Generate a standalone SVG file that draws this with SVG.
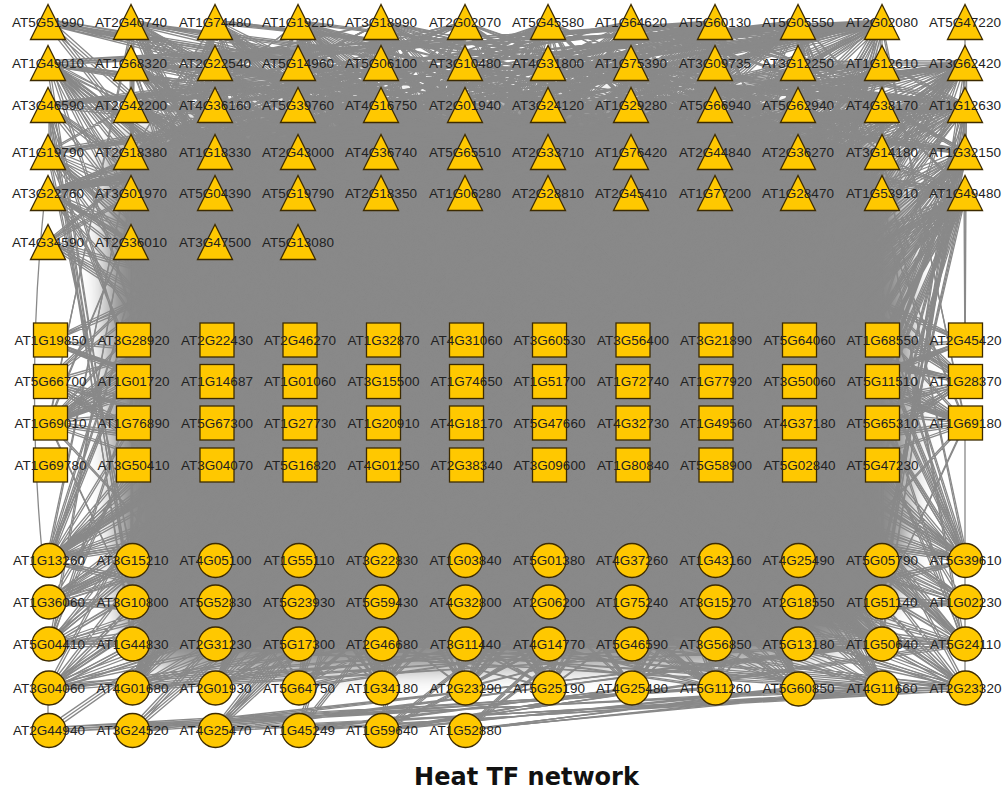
<svg xmlns="http://www.w3.org/2000/svg" width="1004" height="792" viewBox="0 0 1004 792">
<style>
.e{fill:none;stroke:#898989;stroke-width:1.3;stroke-linejoin:round;stroke-linecap:round}
.core{fill:#898989}
.n{fill:#FFC800;stroke:#3d2b00;stroke-width:1.3}
.l{font-family:"Liberation Sans",Arial,sans-serif;font-size:13.5px;fill:#222;text-anchor:middle}
.t{font-family:"DejaVu Sans",Verdana,sans-serif;font-weight:bold;font-size:24px;fill:#111;text-anchor:middle}
</style>
<defs>
<filter id="soft" x="-10%" y="-10%" width="120%" height="120%"><feGaussianBlur stdDeviation="12"/></filter>
<polygon id="tri" class="n" points="0,-17.5 -17.5,17.5 17.5,17.5"/>
<rect id="sq" class="n" x="-17" y="-17" width="34" height="34"/>
<circle id="ci" class="n" r="17"/>
<!-- edge bundles; ea and ec are laid out so they can also be drawn flipped about the vertical centre line -->
<path id="ea" class="e" d="M48 63L715 560L132 63L132 381L215 63L549 644L299 63L965 340L382 63L382 602L465 63L799 465L549 63L215 688L632 63L632 423L715 63L48 560L799 63L465 340L882 63L882 602L965 63L299 381
M48 63L215 152L132 63L799 193L215 63L382 22L299 63L965 152L382 63L549 193L465 63L132 105L549 63L715 152L632 63L299 193L715 63L882 22L799 63L465 152L882 63L48 193L965 63L632 105
M48 63L382 423L132 63L299 340L215 63L215 602L299 63L132 465L382 63L48 381L465 63L965 560L549 63L882 644L632 63L799 340L715 63L715 423L799 63L632 688L882 63L549 381L965 63L465 560
M48 105L132 602L132 105L549 340L215 105L965 423L299 105L382 560L382 105L799 423L465 105L215 688L549 105L632 381L632 105L48 644L715 105L465 602L799 105L882 340L882 105L299 560L965 105L715 423
M48 152L632 381L132 152L48 560L215 152L465 644L299 152L882 423L382 152L299 688L465 152L715 340L549 152L132 602L632 152L549 465L715 152L965 560L799 152L382 644L882 152L799 381L965 152L215 688
M48 560L215 22L132 560L632 105L215 560L48 63L299 560L465 193L382 560L882 152L465 560L299 22L549 560L715 63L632 560L132 105L715 560L549 193L799 560L965 152L882 560L382 22L965 560L799 63
M48 602L465 340L132 602L48 423L215 602L632 381L299 602L215 465L382 602L799 340L465 602L382 423L549 602L965 381L632 602L549 465L715 602L132 340L799 602L715 423L882 602L299 381L965 602L882 465
M48 644L715 105L132 644L632 193L215 644L549 152L299 644L465 63L382 644L382 22L465 644L299 105L549 644L215 193L632 644L132 152L715 644L48 63L799 644L965 105L882 644L882 193L965 644L799 152
M48 688L965 340L132 688L382 381L215 688L799 423L299 688L215 465L382 688L632 340L465 688L48 381L549 688L465 423L632 688L882 465L715 688L299 340L799 688L715 381L882 688L132 423L965 688L549 465
M48 602L882 688L132 644L965 602L215 560L799 644L299 602L965 688L382 644L715 560L465 688L965 560L549 644L48 688L632 560L132 688L715 644L215 602L799 560L299 688L882 602L48 644L965 644L382 560"/>
<path id="ec" class="e" d="M132 22L882 423L215 22L132 152L299 22L382 602L382 22L632 340L465 22L882 193L549 22L132 688L632 22L382 381L715 22L632 105L799 22L882 560L882 22L132 465
M132 22L965 602L215 22L715 381L299 22L465 688L382 22L215 560L465 22L965 193L549 22L715 644L632 22L465 105L715 22L215 423L799 22L965 423L882 22L715 340
M48 63L965 688L132 63L549 560L215 63L132 340L299 63L715 644L382 63L299 423L465 63L882 381L549 63L465 602L632 63L48 423L715 63L632 688L799 63L215 560L882 63L799 340L965 63L382 644
M48 105L799 22L132 105L215 63L215 105L632 22L299 105L48 63L382 105L465 22L465 105L882 63L549 105L299 22L632 105L715 63L715 105L132 22L799 105L549 63L882 105L965 152L965 105L382 63
M48 152L965 602L132 193L549 688L215 152L882 644L299 193L632 602L382 152L132 560L465 193L799 688L549 152L215 644L632 193L965 423L715 152L382 602L799 193L48 644L882 152L632 688L965 193L299 602L882 193L132 644L799 152L549 560L715 193L299 381L632 152L882 688L549 193L48 688L465 152L715 560L382 193L965 560L299 152L465 688L215 193L799 381L132 152L632 644L48 193L382 560
M48 688L632 105L132 688L965 193L215 688L382 152L299 688L799 105L382 688L132 193L465 688L965 63L549 688L215 105L632 688L48 152L715 688L465 63L799 688L299 193L882 688L632 63L965 688L215 193
M48 644L549 22L132 644L882 105L215 644L299 63L299 644L715 193L382 644L132 22L465 644L965 152L549 644L382 105L632 644L799 63L715 644L48 105L799 644L549 193L882 644L215 22L965 644L715 63
M48 340L799 602L48 381L715 193L48 423L882 105L48 560L632 340L48 602L799 381L48 644L882 423L48 688L715 340L48 560L965 423L48 340L882 644L48 381L965 560L48 423L799 688"/>
<path id="eb" class="e" d="M48 22L299 340L132 22L715 560L215 22L132 423L299 22L549 644L382 22L965 381L465 22L382 688L549 22L799 465L632 22L215 602L715 22L632 340L799 22L48 560L882 22L465 423
M48 22L799 152L132 22L382 193L215 22L965 105L299 22L549 381L382 22L132 152L465 22L715 193L549 22L299 560L632 22L882 105L715 22L465 152L799 22L48 193L882 22L632 423
M48 22L549 465L132 22L465 602L215 22L382 688L299 22L299 381L382 22L215 340L465 22L132 644L549 22L48 423L632 22L965 560L715 22L882 602L799 22L799 340L882 22L715 688
M882 22L48 105L715 22L132 63L882 22L215 152L715 22L299 105L882 22L382 63L715 22L465 193L882 22L549 105L715 22L299 193L882 22L132 152L715 22L48 193L882 22L632 152L715 22L382 105L882 22L48 63L715 22L215 63
M965 63L715 105L965 105L549 152L965 63L382 193L965 105L799 63L965 63L632 193L965 105L299 242L965 63L549 340L965 105L882 152L965 63L799 193L965 105L715 381L965 63L882 63L965 105L632 560L965 63L215 152L965 105
M965 152L799 340L965 193L632 423L965 152L882 560L965 193L715 465L965 152L549 602L965 193L799 423L965 152L882 381L965 193L465 560L965 152L715 644L965 193L882 465L965 152L632 340L965 193L882 340L965 152L799 602L965 193L965 340
M48 105L882 193L132 105L465 22L215 105L48 242L299 105L632 152L382 105L215 63L465 105L799 193L549 105L382 22L632 105L965 152L715 105L549 63L799 105L132 242L882 105L715 193L965 105L299 152
M48 152L799 22L132 152L715 63L215 152L632 105L299 152L549 22L382 152L465 63L465 152L382 105L549 152L299 22L632 152L215 63L715 152L132 105L799 152L48 22L882 152L965 63L965 152L882 105
M48 193L882 560L132 193L299 423L215 193L715 602L299 193L132 688L382 193L549 340L465 193L965 644L549 193L382 465L632 193L799 560L715 193L215 730L799 193L632 381L882 193L48 602L965 193L465 688
M48 193L382 63L132 193L965 105L215 193L549 22L299 193L132 63L382 193L715 105L465 193L299 22L549 193L882 63L632 193L465 105L715 193L48 22L799 193L632 63L882 193L215 105L965 193L799 22
M48 242L632 560L132 242L465 423L215 242L882 644L299 242L382 340L48 242L715 688L132 242L299 602L215 242L965 381L299 242L549 688
M48 730L715 688L132 730L882 644L215 730L965 688L299 730L632 688L382 730L799 688L465 730L882 688L48 730L549 381L132 730L632 193L215 730L799 105L299 730L465 152L382 730L882 340L465 730L632 602L382 730L965 644"/>
</defs>
<rect width="1004" height="792" fill="#fff"/>

<g id="connectors">
<!-- fully overlapped centre of the edge mass, fading out towards the border nodes -->
<path class="core" filter="url(#soft)" d="M110 150C200 110 400 100 520 100C700 100 840 110 890 160C915 200 912 450 905 560C895 640 820 660 700 662C550 665 350 672 200 668C140 665 120 640 118 580C115 450 100 300 110 150Z"/>
<use href="#ea"/>
<use href="#ea" transform="matrix(-1 0 0 1 1014 0)"/>
<use href="#ea" transform="rotate(0.35 507 380)"/>
<use href="#ea" transform="rotate(-0.35 507 380) matrix(-1 0 0 1 1014 0)"/>
<use href="#ec"/>
<use href="#ec" transform="matrix(-1 0 0 1 1014 0)"/>
<use href="#ec" transform="rotate(-0.3 507 380)"/>
<use href="#ec" transform="rotate(0.3 507 380) matrix(-1 0 0 1 1014 0)"/>
<use href="#eb"/>
<use href="#eb" transform="rotate(0.3 507 380)"/>
<use href="#eb" transform="rotate(-0.3 507 380)"/>
<path class="e" d="M965 22L965 63M965 423L965 560M965 602L965 644M48 688L48 730M965 560L965 688M44 205Q26 380 42 552"/>
</g>

<g id="nodes">
<g id="AT5G51990"><use href="#tri" x="48" y="22"/><text class="l" x="48" y="26.7">AT5G51990</text></g>
<g id="AT2G40740"><use href="#tri" x="131" y="22"/><text class="l" x="131" y="26.7">AT2G40740</text></g>
<g id="AT1G74480"><use href="#tri" x="215" y="22"/><text class="l" x="215" y="26.7">AT1G74480</text></g>
<g id="AT1G19210"><use href="#tri" x="298" y="22"/><text class="l" x="298" y="26.7">AT1G19210</text></g>
<g id="AT3G18990"><use href="#tri" x="381" y="22"/><text class="l" x="381" y="26.7">AT3G18990</text></g>
<g id="AT2G02070"><use href="#tri" x="465" y="22"/><text class="l" x="465" y="26.7">AT2G02070</text></g>
<g id="AT5G45580"><use href="#tri" x="548" y="22"/><text class="l" x="548" y="26.7">AT5G45580</text></g>
<g id="AT1G64620"><use href="#tri" x="631" y="22"/><text class="l" x="631" y="26.7">AT1G64620</text></g>
<g id="AT5G60130"><use href="#tri" x="715" y="22"/><text class="l" x="715" y="26.7">AT5G60130</text></g>
<g id="AT5G05550"><use href="#tri" x="798" y="22"/><text class="l" x="798" y="26.7">AT5G05550</text></g>
<g id="AT2G02080"><use href="#tri" x="882" y="22"/><text class="l" x="882" y="26.7">AT2G02080</text></g>
<g id="AT5G47220"><use href="#tri" x="965" y="22"/><text class="l" x="965" y="26.7">AT5G47220</text></g>

<g id="AT1G49010"><use href="#tri" x="48" y="63"/><text class="l" x="48" y="67.7">AT1G49010</text></g>
<g id="AT1G68320"><use href="#tri" x="131" y="63"/><text class="l" x="131" y="67.7">AT1G68320</text></g>
<g id="AT2G22540"><use href="#tri" x="215" y="63"/><text class="l" x="215" y="67.7">AT2G22540</text></g>
<g id="AT5G14960"><use href="#tri" x="298" y="63"/><text class="l" x="298" y="67.7">AT5G14960</text></g>
<g id="AT5G06100"><use href="#tri" x="381" y="63"/><text class="l" x="381" y="67.7">AT5G06100</text></g>
<g id="AT3G10480"><use href="#tri" x="465" y="63"/><text class="l" x="465" y="67.7">AT3G10480</text></g>
<g id="AT4G31800"><use href="#tri" x="548" y="63"/><text class="l" x="548" y="67.7">AT4G31800</text></g>
<g id="AT1G75390"><use href="#tri" x="631" y="63"/><text class="l" x="631" y="67.7">AT1G75390</text></g>
<g id="AT3G09735"><use href="#tri" x="715" y="63"/><text class="l" x="715" y="67.7">AT3G09735</text></g>
<g id="AT3G12250"><use href="#tri" x="798" y="63"/><text class="l" x="798" y="67.7">AT3G12250</text></g>
<g id="AT1G12610"><use href="#tri" x="882" y="63"/><text class="l" x="882" y="67.7">AT1G12610</text></g>
<g id="AT3G62420"><use href="#tri" x="965" y="63"/><text class="l" x="965" y="67.7">AT3G62420</text></g>

<g id="AT3G46590"><use href="#tri" x="48" y="105"/><text class="l" x="48" y="109.7">AT3G46590</text></g>
<g id="AT2G42200"><use href="#tri" x="131" y="105"/><text class="l" x="131" y="109.7">AT2G42200</text></g>
<g id="AT4G36160"><use href="#tri" x="215" y="105"/><text class="l" x="215" y="109.7">AT4G36160</text></g>
<g id="AT5G39760"><use href="#tri" x="298" y="105"/><text class="l" x="298" y="109.7">AT5G39760</text></g>
<g id="AT4G16750"><use href="#tri" x="381" y="105"/><text class="l" x="381" y="109.7">AT4G16750</text></g>
<g id="AT2G01940"><use href="#tri" x="465" y="105"/><text class="l" x="465" y="109.7">AT2G01940</text></g>
<g id="AT3G24120"><use href="#tri" x="548" y="105"/><text class="l" x="548" y="109.7">AT3G24120</text></g>
<g id="AT1G29280"><use href="#tri" x="631" y="105"/><text class="l" x="631" y="109.7">AT1G29280</text></g>
<g id="AT5G66940"><use href="#tri" x="715" y="105"/><text class="l" x="715" y="109.7">AT5G66940</text></g>
<g id="AT5G62940"><use href="#tri" x="798" y="105"/><text class="l" x="798" y="109.7">AT5G62940</text></g>
<g id="AT4G38170"><use href="#tri" x="882" y="105"/><text class="l" x="882" y="109.7">AT4G38170</text></g>
<g id="AT1G12630"><use href="#tri" x="965" y="105"/><text class="l" x="965" y="109.7">AT1G12630</text></g>

<g id="AT1G19790"><use href="#tri" x="48" y="152"/><text class="l" x="48" y="156.7">AT1G19790</text></g>
<g id="AT2G18380"><use href="#tri" x="131" y="152"/><text class="l" x="131" y="156.7">AT2G18380</text></g>
<g id="AT1G18330"><use href="#tri" x="215" y="152"/><text class="l" x="215" y="156.7">AT1G18330</text></g>
<g id="AT2G43000"><use href="#tri" x="298" y="152"/><text class="l" x="298" y="156.7">AT2G43000</text></g>
<g id="AT4G36740"><use href="#tri" x="381" y="152"/><text class="l" x="381" y="156.7">AT4G36740</text></g>
<g id="AT5G65510"><use href="#tri" x="465" y="152"/><text class="l" x="465" y="156.7">AT5G65510</text></g>
<g id="AT2G33710"><use href="#tri" x="548" y="152"/><text class="l" x="548" y="156.7">AT2G33710</text></g>
<g id="AT1G76420"><use href="#tri" x="631" y="152"/><text class="l" x="631" y="156.7">AT1G76420</text></g>
<g id="AT2G44840"><use href="#tri" x="715" y="152"/><text class="l" x="715" y="156.7">AT2G44840</text></g>
<g id="AT2G36270"><use href="#tri" x="798" y="152"/><text class="l" x="798" y="156.7">AT2G36270</text></g>
<g id="AT3G14180"><use href="#tri" x="882" y="152"/><text class="l" x="882" y="156.7">AT3G14180</text></g>
<g id="AT1G32150"><use href="#tri" x="965" y="152"/><text class="l" x="965" y="156.7">AT1G32150</text></g>

<g id="AT3G22760"><use href="#tri" x="48" y="193"/><text class="l" x="48" y="197.7">AT3G22760</text></g>
<g id="AT3G01970"><use href="#tri" x="131" y="193"/><text class="l" x="131" y="197.7">AT3G01970</text></g>
<g id="AT5G04390"><use href="#tri" x="215" y="193"/><text class="l" x="215" y="197.7">AT5G04390</text></g>
<g id="AT5G19790"><use href="#tri" x="298" y="193"/><text class="l" x="298" y="197.7">AT5G19790</text></g>
<g id="AT2G18350"><use href="#tri" x="381" y="193"/><text class="l" x="381" y="197.7">AT2G18350</text></g>
<g id="AT1G06280"><use href="#tri" x="465" y="193"/><text class="l" x="465" y="197.7">AT1G06280</text></g>
<g id="AT2G28810"><use href="#tri" x="548" y="193"/><text class="l" x="548" y="197.7">AT2G28810</text></g>
<g id="AT2G45410"><use href="#tri" x="631" y="193"/><text class="l" x="631" y="197.7">AT2G45410</text></g>
<g id="AT1G77200"><use href="#tri" x="715" y="193"/><text class="l" x="715" y="197.7">AT1G77200</text></g>
<g id="AT1G28470"><use href="#tri" x="798" y="193"/><text class="l" x="798" y="197.7">AT1G28470</text></g>
<g id="AT1G53910"><use href="#tri" x="882" y="193"/><text class="l" x="882" y="197.7">AT1G53910</text></g>
<g id="AT1G49480"><use href="#tri" x="965" y="193"/><text class="l" x="965" y="197.7">AT1G49480</text></g>

<g id="AT4G34590"><use href="#tri" x="48" y="242"/><text class="l" x="48" y="246.7">AT4G34590</text></g>
<g id="AT2G36010"><use href="#tri" x="131" y="242"/><text class="l" x="131" y="246.7">AT2G36010</text></g>
<g id="AT3G47500"><use href="#tri" x="215" y="242"/><text class="l" x="215" y="246.7">AT3G47500</text></g>
<g id="AT5G13080"><use href="#tri" x="298" y="242"/><text class="l" x="298" y="246.7">AT5G13080</text></g>

<g id="AT1G19850"><use href="#sq" x="50.5" y="340"/><text class="l" x="50.5" y="344.7">AT1G19850</text></g>
<g id="AT3G28920"><use href="#sq" x="133.5" y="340"/><text class="l" x="133.5" y="344.7">AT3G28920</text></g>
<g id="AT2G22430"><use href="#sq" x="217" y="340"/><text class="l" x="217" y="344.7">AT2G22430</text></g>
<g id="AT2G46270"><use href="#sq" x="300" y="340"/><text class="l" x="300" y="344.7">AT2G46270</text></g>
<g id="AT1G32870"><use href="#sq" x="383.5" y="340"/><text class="l" x="383.5" y="344.7">AT1G32870</text></g>
<g id="AT4G31060"><use href="#sq" x="466.5" y="340"/><text class="l" x="466.5" y="344.7">AT4G31060</text></g>
<g id="AT3G60530"><use href="#sq" x="549.5" y="340"/><text class="l" x="549.5" y="344.7">AT3G60530</text></g>
<g id="AT3G56400"><use href="#sq" x="633" y="340"/><text class="l" x="633" y="344.7">AT3G56400</text></g>
<g id="AT3G21890"><use href="#sq" x="716" y="340"/><text class="l" x="716" y="344.7">AT3G21890</text></g>
<g id="AT5G64060"><use href="#sq" x="799.5" y="340"/><text class="l" x="799.5" y="344.7">AT5G64060</text></g>
<g id="AT1G68550"><use href="#sq" x="882.5" y="340"/><text class="l" x="882.5" y="344.7">AT1G68550</text></g>
<g id="AT2G45420"><use href="#sq" x="965.5" y="340"/><text class="l" x="965.5" y="344.7">AT2G45420</text></g>

<g id="AT5G66700"><use href="#sq" x="50.5" y="381.5"/><text class="l" x="50.5" y="386.2">AT5G66700</text></g>
<g id="AT1G01720"><use href="#sq" x="133.5" y="381.5"/><text class="l" x="133.5" y="386.2">AT1G01720</text></g>
<g id="AT1G14687"><use href="#sq" x="217" y="381.5"/><text class="l" x="217" y="386.2">AT1G14687</text></g>
<g id="AT1G01060"><use href="#sq" x="300" y="381.5"/><text class="l" x="300" y="386.2">AT1G01060</text></g>
<g id="AT3G15500"><use href="#sq" x="383.5" y="381.5"/><text class="l" x="383.5" y="386.2">AT3G15500</text></g>
<g id="AT1G74650"><use href="#sq" x="466.5" y="381.5"/><text class="l" x="466.5" y="386.2">AT1G74650</text></g>
<g id="AT1G51700"><use href="#sq" x="549.5" y="381.5"/><text class="l" x="549.5" y="386.2">AT1G51700</text></g>
<g id="AT1G72740"><use href="#sq" x="633" y="381.5"/><text class="l" x="633" y="386.2">AT1G72740</text></g>
<g id="AT1G77920"><use href="#sq" x="716" y="381.5"/><text class="l" x="716" y="386.2">AT1G77920</text></g>
<g id="AT3G50060"><use href="#sq" x="799.5" y="381.5"/><text class="l" x="799.5" y="386.2">AT3G50060</text></g>
<g id="AT5G11510"><use href="#sq" x="882.5" y="381.5"/><text class="l" x="882.5" y="386.2">AT5G11510</text></g>
<g id="AT1G28370"><use href="#sq" x="965.5" y="381.5"/><text class="l" x="965.5" y="386.2">AT1G28370</text></g>

<g id="AT1G69010"><use href="#sq" x="50.5" y="423"/><text class="l" x="50.5" y="427.7">AT1G69010</text></g>
<g id="AT1G76890"><use href="#sq" x="133.5" y="423"/><text class="l" x="133.5" y="427.7">AT1G76890</text></g>
<g id="AT5G67300"><use href="#sq" x="217" y="423"/><text class="l" x="217" y="427.7">AT5G67300</text></g>
<g id="AT1G27730"><use href="#sq" x="300" y="423"/><text class="l" x="300" y="427.7">AT1G27730</text></g>
<g id="AT1G20910"><use href="#sq" x="383.5" y="423"/><text class="l" x="383.5" y="427.7">AT1G20910</text></g>
<g id="AT4G18170"><use href="#sq" x="466.5" y="423"/><text class="l" x="466.5" y="427.7">AT4G18170</text></g>
<g id="AT5G47660"><use href="#sq" x="549.5" y="423"/><text class="l" x="549.5" y="427.7">AT5G47660</text></g>
<g id="AT4G32730"><use href="#sq" x="633" y="423"/><text class="l" x="633" y="427.7">AT4G32730</text></g>
<g id="AT1G49560"><use href="#sq" x="716" y="423"/><text class="l" x="716" y="427.7">AT1G49560</text></g>
<g id="AT4G37180"><use href="#sq" x="799.5" y="423"/><text class="l" x="799.5" y="427.7">AT4G37180</text></g>
<g id="AT5G65310"><use href="#sq" x="882.5" y="423"/><text class="l" x="882.5" y="427.7">AT5G65310</text></g>
<g id="AT1G69180"><use href="#sq" x="965.5" y="423"/><text class="l" x="965.5" y="427.7">AT1G69180</text></g>

<g id="AT1G69780"><use href="#sq" x="50.5" y="465"/><text class="l" x="50.5" y="469.7">AT1G69780</text></g>
<g id="AT3G50410"><use href="#sq" x="133.5" y="465"/><text class="l" x="133.5" y="469.7">AT3G50410</text></g>
<g id="AT3G04070"><use href="#sq" x="217" y="465"/><text class="l" x="217" y="469.7">AT3G04070</text></g>
<g id="AT5G16820"><use href="#sq" x="300" y="465"/><text class="l" x="300" y="469.7">AT5G16820</text></g>
<g id="AT4G01250"><use href="#sq" x="383.5" y="465"/><text class="l" x="383.5" y="469.7">AT4G01250</text></g>
<g id="AT2G38340"><use href="#sq" x="466.5" y="465"/><text class="l" x="466.5" y="469.7">AT2G38340</text></g>
<g id="AT3G09600"><use href="#sq" x="549.5" y="465"/><text class="l" x="549.5" y="469.7">AT3G09600</text></g>
<g id="AT1G80840"><use href="#sq" x="633" y="465"/><text class="l" x="633" y="469.7">AT1G80840</text></g>
<g id="AT5G58900"><use href="#sq" x="716" y="465"/><text class="l" x="716" y="469.7">AT5G58900</text></g>
<g id="AT5G02840"><use href="#sq" x="799.5" y="465"/><text class="l" x="799.5" y="469.7">AT5G02840</text></g>
<g id="AT5G47230"><use href="#sq" x="882.5" y="465"/><text class="l" x="882.5" y="469.7">AT5G47230</text></g>

<g id="AT1G13260"><use href="#ci" x="49" y="560.5"/><text class="l" x="49" y="565.2">AT1G13260</text></g>
<g id="AT3G15210"><use href="#ci" x="132.5" y="560.5"/><text class="l" x="132.5" y="565.2">AT3G15210</text></g>
<g id="AT4G05100"><use href="#ci" x="215.5" y="560.5"/><text class="l" x="215.5" y="565.2">AT4G05100</text></g>
<g id="AT1G55110"><use href="#ci" x="299" y="560.5"/><text class="l" x="299" y="565.2">AT1G55110</text></g>
<g id="AT3G22830"><use href="#ci" x="382" y="560.5"/><text class="l" x="382" y="565.2">AT3G22830</text></g>
<g id="AT1G03840"><use href="#ci" x="465.5" y="560.5"/><text class="l" x="465.5" y="565.2">AT1G03840</text></g>
<g id="AT5G01380"><use href="#ci" x="549" y="560.5"/><text class="l" x="549" y="565.2">AT5G01380</text></g>
<g id="AT4G37260"><use href="#ci" x="632" y="560.5"/><text class="l" x="632" y="565.2">AT4G37260</text></g>
<g id="AT1G43160"><use href="#ci" x="715.5" y="560.5"/><text class="l" x="715.5" y="565.2">AT1G43160</text></g>
<g id="AT4G25490"><use href="#ci" x="798.5" y="560.5"/><text class="l" x="798.5" y="565.2">AT4G25490</text></g>
<g id="AT5G05790"><use href="#ci" x="882" y="560.5"/><text class="l" x="882" y="565.2">AT5G05790</text></g>
<g id="AT5G39610"><use href="#ci" x="965.5" y="560.5"/><text class="l" x="965.5" y="565.2">AT5G39610</text></g>

<g id="AT1G36060"><use href="#ci" x="49" y="602"/><text class="l" x="49" y="606.7">AT1G36060</text></g>
<g id="AT3G10800"><use href="#ci" x="132.5" y="602"/><text class="l" x="132.5" y="606.7">AT3G10800</text></g>
<g id="AT5G52830"><use href="#ci" x="215.5" y="602"/><text class="l" x="215.5" y="606.7">AT5G52830</text></g>
<g id="AT5G23930"><use href="#ci" x="299" y="602"/><text class="l" x="299" y="606.7">AT5G23930</text></g>
<g id="AT5G59430"><use href="#ci" x="382" y="602"/><text class="l" x="382" y="606.7">AT5G59430</text></g>
<g id="AT4G32800"><use href="#ci" x="465.5" y="602"/><text class="l" x="465.5" y="606.7">AT4G32800</text></g>
<g id="AT2G06200"><use href="#ci" x="549" y="602"/><text class="l" x="549" y="606.7">AT2G06200</text></g>
<g id="AT1G75240"><use href="#ci" x="632" y="602"/><text class="l" x="632" y="606.7">AT1G75240</text></g>
<g id="AT3G15270"><use href="#ci" x="715.5" y="602"/><text class="l" x="715.5" y="606.7">AT3G15270</text></g>
<g id="AT2G18550"><use href="#ci" x="798.5" y="602"/><text class="l" x="798.5" y="606.7">AT2G18550</text></g>
<g id="AT1G51140"><use href="#ci" x="882" y="602"/><text class="l" x="882" y="606.7">AT1G51140</text></g>
<g id="AT1G02230"><use href="#ci" x="965.5" y="602"/><text class="l" x="965.5" y="606.7">AT1G02230</text></g>

<g id="AT5G04410"><use href="#ci" x="49" y="644"/><text class="l" x="49" y="648.7">AT5G04410</text></g>
<g id="AT1G44830"><use href="#ci" x="132.5" y="644"/><text class="l" x="132.5" y="648.7">AT1G44830</text></g>
<g id="AT2G31230"><use href="#ci" x="215.5" y="644"/><text class="l" x="215.5" y="648.7">AT2G31230</text></g>
<g id="AT5G17300"><use href="#ci" x="299" y="644"/><text class="l" x="299" y="648.7">AT5G17300</text></g>
<g id="AT2G46680"><use href="#ci" x="382" y="644"/><text class="l" x="382" y="648.7">AT2G46680</text></g>
<g id="AT3G11440"><use href="#ci" x="465.5" y="644"/><text class="l" x="465.5" y="648.7">AT3G11440</text></g>
<g id="AT4G14770"><use href="#ci" x="549" y="644"/><text class="l" x="549" y="648.7">AT4G14770</text></g>
<g id="AT5G46590"><use href="#ci" x="632" y="644"/><text class="l" x="632" y="648.7">AT5G46590</text></g>
<g id="AT3G56850"><use href="#ci" x="715.5" y="644"/><text class="l" x="715.5" y="648.7">AT3G56850</text></g>
<g id="AT5G13180"><use href="#ci" x="798.5" y="644"/><text class="l" x="798.5" y="648.7">AT5G13180</text></g>
<g id="AT1G50640"><use href="#ci" x="882" y="644"/><text class="l" x="882" y="648.7">AT1G50640</text></g>
<g id="AT5G24110"><use href="#ci" x="965.5" y="644"/><text class="l" x="965.5" y="648.7">AT5G24110</text></g>

<g id="AT3G04060"><use href="#ci" x="49" y="688"/><text class="l" x="49" y="692.7">AT3G04060</text></g>
<g id="AT4G01680"><use href="#ci" x="132.5" y="688"/><text class="l" x="132.5" y="692.7">AT4G01680</text></g>
<g id="AT2G01930"><use href="#ci" x="215.5" y="688"/><text class="l" x="215.5" y="692.7">AT2G01930</text></g>
<g id="AT5G64750"><use href="#ci" x="299" y="688"/><text class="l" x="299" y="692.7">AT5G64750</text></g>
<g id="AT1G34180"><use href="#ci" x="382" y="688"/><text class="l" x="382" y="692.7">AT1G34180</text></g>
<g id="AT2G23290"><use href="#ci" x="465.5" y="688"/><text class="l" x="465.5" y="692.7">AT2G23290</text></g>
<g id="AT5G25190"><use href="#ci" x="549" y="688"/><text class="l" x="549" y="692.7">AT5G25190</text></g>
<g id="AT4G25480"><use href="#ci" x="632" y="688"/><text class="l" x="632" y="692.7">AT4G25480</text></g>
<g id="AT5G11260"><use href="#ci" x="715.5" y="688"/><text class="l" x="715.5" y="692.7">AT5G11260</text></g>
<g id="AT5G60850"><use href="#ci" x="798.5" y="689"/><text class="l" x="798.5" y="692.7">AT5G60850</text></g>
<g id="AT4G11660"><use href="#ci" x="882" y="688"/><text class="l" x="882" y="692.7">AT4G11660</text></g>
<g id="AT2G23320"><use href="#ci" x="965.5" y="688"/><text class="l" x="965.5" y="692.7">AT2G23320</text></g>

<g id="AT2G44940"><use href="#ci" x="49" y="730.5"/><text class="l" x="49" y="735.2">AT2G44940</text></g>
<g id="AT3G24520"><use href="#ci" x="132.5" y="730.5"/><text class="l" x="132.5" y="735.2">AT3G24520</text></g>
<g id="AT4G25470"><use href="#ci" x="215.5" y="730.5"/><text class="l" x="215.5" y="735.2">AT4G25470</text></g>
<g id="AT1G45249"><use href="#ci" x="299" y="730.5"/><text class="l" x="299" y="735.2">AT1G45249</text></g>
<g id="AT1G59640"><use href="#ci" x="382" y="730.5"/><text class="l" x="382" y="735.2">AT1G59640</text></g>
<g id="AT1G52880"><use href="#ci" x="465.5" y="730.5"/><text class="l" x="465.5" y="735.2">AT1G52880</text></g>
</g>

<text class="t" x="526.5" y="785">Heat TF network</text>
</svg>
